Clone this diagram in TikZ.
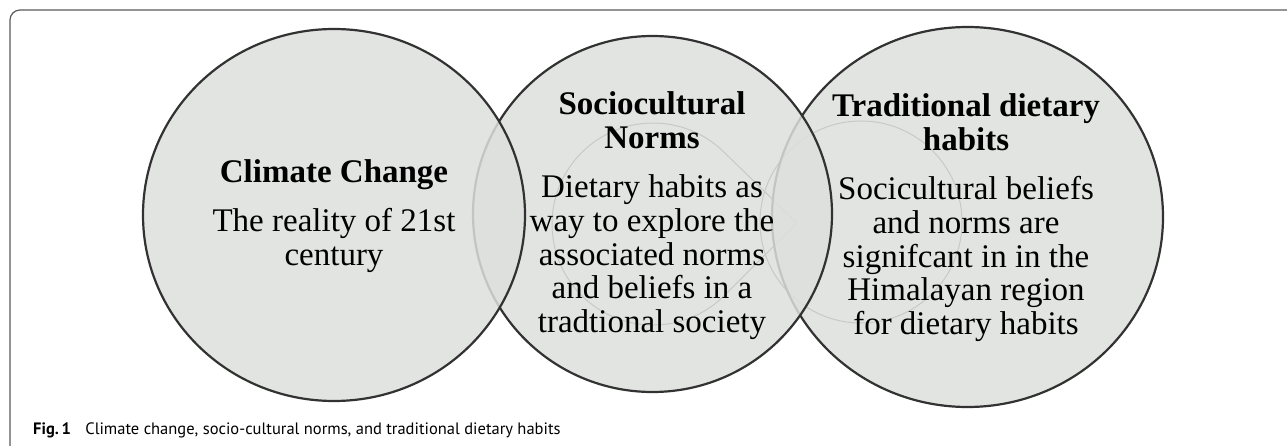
\documentclass[tikz,border=0pt]{standalone}
\usepackage{fontspec}
\setmainfont{Liberation Serif}
\newfontfamily\capfont{PT Sans}
\usetikzlibrary{shapes.geometric}

\definecolor{vennfill}{RGB}{221,223,221}
\definecolor{ringline}{RGB}{50,50,50}
\definecolor{ghostline}{RGB}{80,80,80}
\definecolor{framecol}{RGB}{90,90,90}

\newcommand{\lines}[1]{\begin{tabular}[t]{@{}c@{}}#1\end{tabular}}

\begin{document}
\begin{tikzpicture}[x=1pt,y=-1pt,
  venn/.style={ellipse, draw=ringline, line width=2.2pt, fill=vennfill,
    fill opacity=0.85, inner sep=0pt},
  ghost/.style={draw=ghostline, line width=1pt},
  txt/.style={anchor=base, inner sep=0pt,
    font=\fontsize{33}{33.6}\selectfont},
  head/.style={txt, font=\fontsize{33}{33.6}\selectfont\bfseries},
]
\useasboundingbox (0,0) rectangle (1287,446);

% panel frame (open at right and bottom)
\draw[framecol, line width=1.2pt, rounded corners=10pt]
  (10,450) -- (10,10) -- (1290,10);

% faint guide shapes lying under the discs
\draw[ghost] (797,223) -- (723.8,152)
  arc[start angle=-45.5, end angle=-314.5, radius=101] -- cycle;
\draw[ghost] (861,222) circle[radius=101];

% the three discs, back to front
\node[venn, minimum width=391pt, minimum height=380pt] (discR) at (967.5,217) {};
\node[venn, minimum width=359pt, minimum height=356pt] (discM) at (652.5,214) {};
\node[venn, minimum width=382pt, minimum height=372pt] (discL) at (334,215) {};

% texts
\node[head] (headL) at (334,183) {Climate Change};
\node[txt]  (bodyL) at (334,232) {\lines{The reality of 21st\\century}};

\node[head] (headM) at (652,115) {\lines{Sociocultural\\Norms}};
\node[txt]  (bodyM) at (652,198) {\lines{Dietary habits as\\way to explore the\\associated norms\\and beliefs in a\\tradtional society}};

\node[head] (headR) at (966,117) {\lines{Traditional dietary\\habits}};
\node[txt]  (bodyR) at (966,200) {\lines{Socicultural beliefs\\and norms are\\signifcant in in the\\Himalayan region\\for dietary habits}};

% caption
\node[anchor=base west, inner sep=0pt, font=\capfont\fontsize{16.5}{19}\selectfont]
  (caption) at (33,434) {\textbf{Fig.\,1}\hspace{0.6em} Climate change, socio-cultural norms, and traditional dietary habits};
\end{tikzpicture}
\end{document}
